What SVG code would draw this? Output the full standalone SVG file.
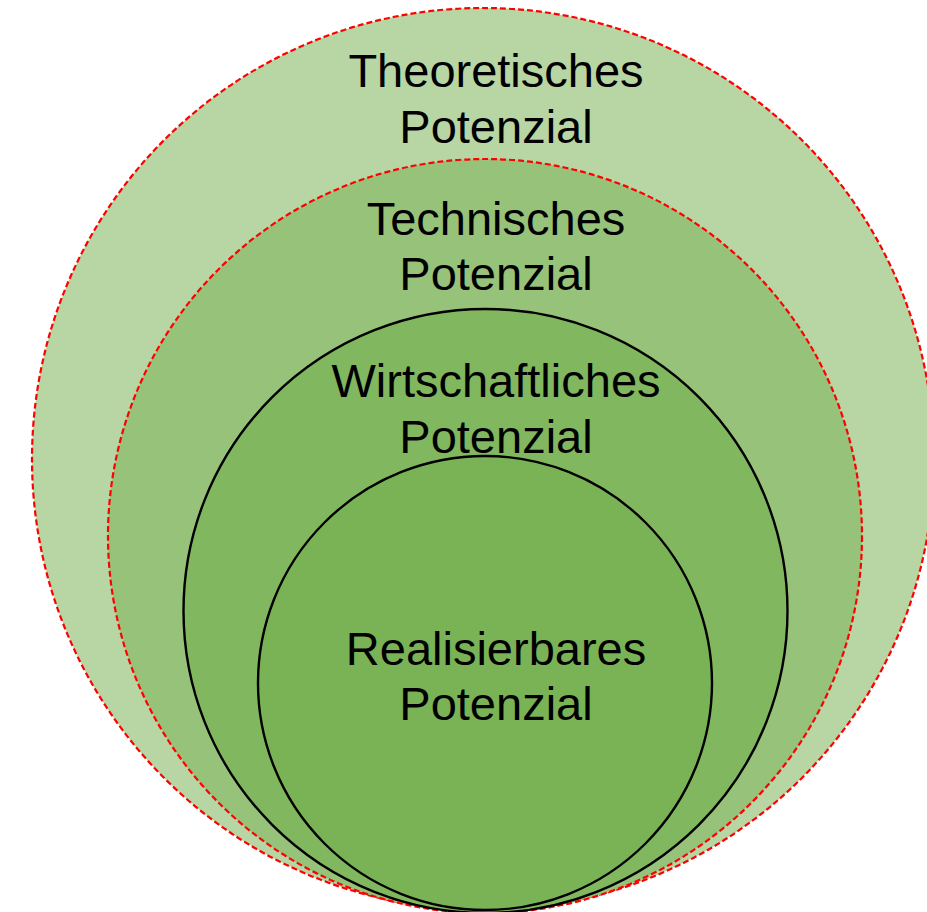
<svg xmlns="http://www.w3.org/2000/svg" width="927" height="912" viewBox="0 0 927 912">
<style>
.dash{stroke:#FF0000;stroke-width:2.2;stroke-dasharray:6 3;}
.solid{stroke:#000000;stroke-width:2.4;}
.lbl{font-family:"Liberation Sans",Arial,sans-serif;font-size:47px;fill:#000000;text-anchor:middle;}
</style>
<rect width="927" height="912" fill="#FFFFFF"/>
<g id="theoretisch">
<circle cx="483" cy="459" r="451" fill="#B8D5A4" class="dash"/>
<text class="lbl" x="496" y="87">Theoretisches</text>
<text class="lbl" x="496" y="143">Potenzial</text>
</g>
<g id="technisch">
<circle cx="485" cy="536" r="377" fill="#97C27A" class="dash"/>
<text class="lbl" x="496" y="235">Technisches</text>
<text class="lbl" x="496" y="290">Potenzial</text>
</g>
<g id="wirtschaftlich">
<circle cx="485.5" cy="611" r="302" fill="#81B75F" class="solid"/>
<text class="lbl" x="496" y="397">Wirtschaftliches</text>
<text class="lbl" x="496" y="453">Potenzial</text>
</g>
<g id="realisierbar">
<circle cx="485" cy="683" r="227" fill="#7AB356" class="solid"/>
<text class="lbl" x="496" y="665">Realisierbares</text>
<text class="lbl" x="496" y="720">Potenzial</text>
</g>
<g id="connectors"></g>
</svg>
